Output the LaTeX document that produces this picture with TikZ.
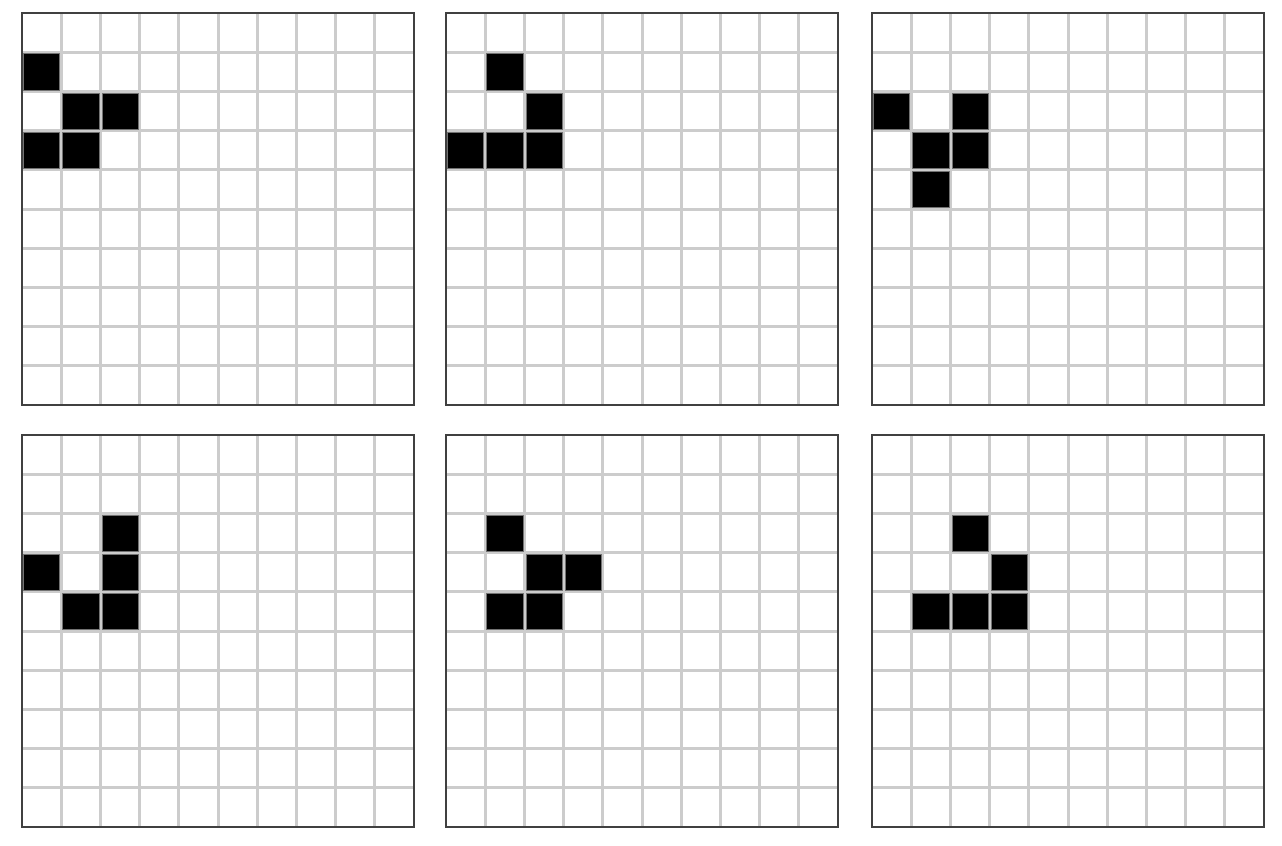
\documentclass[tikz,border=0pt]{standalone}
\begin{document}
\begin{tikzpicture}[x=0.5pt, y=-0.5pt,
		gridline/.style={draw=black!20, line width=1.5pt},
		frame/.style={draw=black!75, line width=0.8pt},
		alive/.style={fill=black, draw=black!55, line width=0.4pt},
		]
		\useasboundingbox (0,0) rectangle (1282,846);
		% one panel per generation: top-left corner / live cells (column/row)
		\foreach \px/\py/\cells in {
				22/13/{0/1,1/2,2/2,0/3,1/3},
				446/13/{1/1,2/2,0/3,1/3,2/3},
				872/13/{0/2,2/2,1/3,2/3,1/4},
				22/435/{2/2,0/3,2/3,1/4,2/4},
				446/435/{1/2,2/3,3/3,1/4,2/4},
				872/435/{2/2,3/3,1/4,2/4,3/4}} {
			\begin{scope}[shift={(\px,\py)}]
				\foreach \k in {1,...,9} {
					\draw[gridline] (\k*39.2,0) -- (\k*39.2,392);
					\draw[gridline] (0,\k*39.2) -- (392,\k*39.2);
				}
				\foreach \c/\r in \cells {
					\draw[alive] (\c*39.2+1.5,\r*39.2+1.5) rectangle (\c*39.2+37.7,\r*39.2+37.7);
				}
				\draw[frame] (0,0) rectangle (392,392);
			\end{scope}
		}
	\end{tikzpicture}
\end{document}
